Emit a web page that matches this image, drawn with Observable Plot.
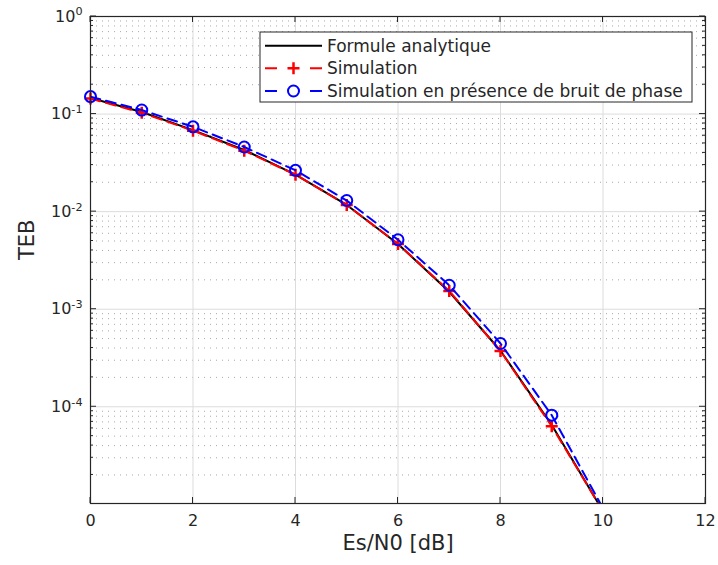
<!DOCTYPE html>
<html><head><meta charset="utf-8">
<script src="https://cdn.jsdelivr.net/npm/d3@7"></script>
<script src="https://cdn.jsdelivr.net/npm/@observablehq/plot@0.6"></script>
<style>body{margin:0;background:#fff} svg{display:block}</style>
</head><body><div id="chart"></div>
<script>
// ---- data ----
const esn0 = [0, 1, 2, 3, 4, 5, 6, 7, 8, 9, 10];
const tebAnalytique = [0.146, 0.105, 0.0685, 0.0428, 0.0240, 0.0117, 0.00466, 0.00151, 3.75e-4, 6.5e-5, 8.5e-6];
const tebSimulation = [0.144, 0.103, 0.0676, 0.0421, 0.0239, 0.0117, 0.00467, 0.00154, 3.72e-4, 6.32e-5, 8.5e-6];
const tebBruitPhase = [0.151, 0.110, 0.0740, 0.0460, 0.0265, 0.0130, 0.00515, 0.00176, 4.45e-4, 8.2e-5, 9.1e-6];
const xTicks = [0, 2, 4, 6, 8, 10, 12];
const yTicks = [1, 1e-1, 1e-2, 1e-3, 1e-4];
const yTickLabels = ["10^0", "10^-1", "10^-2", "10^-3", "10^-4"];
const seriesNames = ["Formule analytique", "Simulation", "Simulation en présence de bruit de phase"];
const xLabel = "Es/N0 [dB]";
const yLabel = "TEB";
const yDomain = [1.02e-5, 1];

const rows = (vals) => esn0.map((x, i) => ({x, teb: vals[i]}));
const dA = rows(tebAnalytique), dS = rows(tebSimulation), dB = rows(tebBruitPhase);
const yMinor = [];
yTicks.forEach(d => { for (let k = 2; k <= 9; k++) yMinor.push(k * d / 10); });

const plusSymbol = {draw(ctx, size) { const r = Math.sqrt(size / Math.PI); ctx.moveTo(-r, 0); ctx.lineTo(r, 0); ctx.moveTo(0, -r); ctx.lineTo(0, r); }};
const inside = d => d.teb >= yDomain[0];

const W = 718, H = 565, mL = 90, mR = 13, mT = 16, mB = 62;
const plot = Plot.plot({
  width: W, height: H,
  marginLeft: mL, marginRight: mR, marginTop: mT, marginBottom: mB,
  style: {fontFamily: "DejaVu Sans", background: "#fff", color: "#262626"},
  x: {domain: [0, 12]},
  y: {type: "log", domain: yDomain},
  marks: [
    Plot.ruleY(yMinor, {stroke: "#a8a8a8", strokeDasharray: "1,5", strokeWidth: 1}),
    Plot.ruleX(xTicks, {stroke: "#dcdcdc", strokeWidth: 1}),
    Plot.ruleY(yTicks, {stroke: "#dcdcdc", strokeWidth: 1}),
    Plot.line(dA, {x: "x", y: "teb", stroke: "#000", strokeWidth: 2, clip: true}),
    Plot.line(dS, {x: "x", y: "teb", stroke: "#ff0000", strokeWidth: 2, strokeDasharray: "10,6", clip: true}),
    Plot.dot(dS, {x: "x", y: "teb", filter: inside, symbol: plusSymbol, r: 6, stroke: "#ff0000", strokeWidth: 2.5, fill: "none"}),
    Plot.line(dB, {x: "x", y: "teb", stroke: "#0000ff", strokeWidth: 2, strokeDasharray: "10,6", clip: true}),
    Plot.dot(dB, {x: "x", y: "teb", filter: inside, r: 5.5, stroke: "#0000ff", strokeWidth: 2, fill: "none"}),
    Plot.frame({stroke: "#262626", strokeWidth: 1.2}),
    Plot.axisX(xTicks, {tickSize: 0, tickPadding: 11, fontSize: 16, label: null, fill: "#262626"}),
    Plot.axisY(yTicks, {tickSize: 0, tickPadding: 8, fontSize: 16, label: null, fill: "#262626",
      tickFormat: d => yTickLabels[yTicks.indexOf(d)]}),
    Plot.text([xLabel], {frameAnchor: "bottom", dy: 46, fontSize: 21, fill: "#262626"}),
    Plot.text([yLabel], {frameAnchor: "left", dx: -63, rotate: -90, fontSize: 21, fill: "#262626"})
  ]
});

const svg = d3.select(plot);
// superscript exponents
svg.selectAll('g[aria-label="y-axis tick label"] text').each(function () {
  const t = this.textContent; const [b, e] = t.split("^");
  const s = d3.select(this); s.text(null);
  s.append("tspan").text(b);
  s.append("tspan").attr("dy", "-0.55em").attr("font-size", "0.7em").text(e);
});

// inward tick marks (positions from Plot's scales)
const sx = plot.scale("x"), sy = plot.scale("y");
const xL = sx.apply(0), xR = sx.apply(12), yB = sy.apply(yDomain[0]), yT = sy.apply(1);
const gt = svg.append("g").attr("stroke", "#262626").attr("stroke-width", 1);
xTicks.forEach(v => {
  const X = sx.apply(v);
  gt.append("line").attr("x1", X).attr("x2", X).attr("y1", yB).attr("y2", yB - 6);
  gt.append("line").attr("x1", X).attr("x2", X).attr("y1", yT).attr("y2", yT + 6);
});
yTicks.forEach(v => {
  const Y = sy.apply(v);
  gt.append("line").attr("x1", xL).attr("x2", xL + 6).attr("y1", Y).attr("y2", Y);
  gt.append("line").attr("x1", xR).attr("x2", xR - 6).attr("y1", Y).attr("y2", Y);
});
yMinor.forEach(v => {
  const Y = sy.apply(v);
  gt.append("line").attr("x1", xL).attr("x2", xL + 3).attr("y1", Y).attr("y2", Y);
  gt.append("line").attr("x1", xR).attr("x2", xR - 3).attr("y1", Y).attr("y2", Y);
});

// legend
const lg = svg.append("g").attr("font-family", "DejaVu Sans").attr("font-size", 17).attr("text-anchor", "start");
lg.append("rect").attr("x", 260).attr("y", 32).attr("width", 432).attr("height", 70)
  .attr("fill", "#fff").attr("stroke", "#262626").attr("stroke-width", 1);
const styles = [
  {stroke: "#000", dash: null, marker: null},
  {stroke: "#ff0000", dash: "12,33,12", marker: "plus"},
  {stroke: "#0000ff", dash: "12,33,12", marker: "circle"}
];
const rowY = [45.7, 68.3, 91];
seriesNames.forEach((name, i) => {
  const y = rowY[i], st = styles[i];
  const ln = lg.append("line").attr("x1", 265).attr("x2", 322).attr("y1", y).attr("y2", y)
    .attr("stroke", st.stroke).attr("stroke-width", 2);
  if (st.dash) ln.attr("stroke-dasharray", st.dash);
  const cx = 293.5;
  if (st.marker === "plus") {
    lg.append("path").attr("d", `M${cx - 6},${y}H${cx + 6}M${cx},${y - 6}V${y + 6}`)
      .attr("stroke", st.stroke).attr("stroke-width", 2.5).attr("fill", "none");
  } else if (st.marker === "circle") {
    lg.append("circle").attr("cx", cx).attr("cy", y).attr("r", 5.5)
      .attr("stroke", st.stroke).attr("stroke-width", 2).attr("fill", "none");
  }
  lg.append("text").attr("x", 327).attr("y", y).attr("dy", "0.36em").attr("fill", "#262626")
    .attr("text-anchor", "start").text(name);
});

document.getElementById("chart").appendChild(plot);
</script>
</body></html>
